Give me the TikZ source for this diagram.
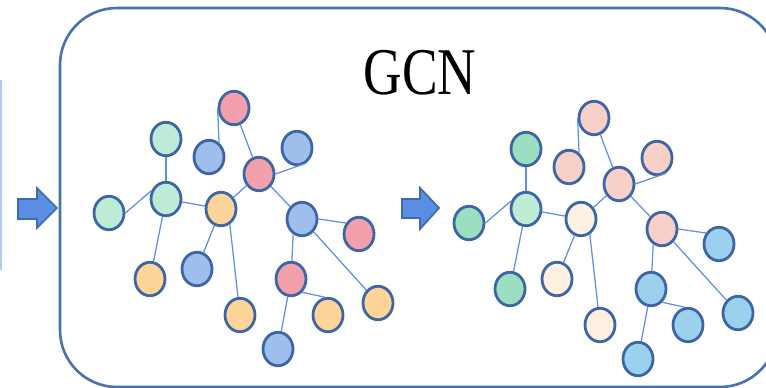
\documentclass[tikz,border=0pt]{standalone}
\usepackage{fontspec}
\setmainfont{Liberation Serif}
\usetikzlibrary{shapes.geometric}

\definecolor{rim}{HTML}{4A72AE}
\definecolor{dotrim}{HTML}{3F66A4}
\definecolor{linkblue}{HTML}{5B8FE0}
\definecolor{arrowblue}{HTML}{5B8DE2}
\definecolor{arrowrim}{HTML}{3E6AAF}
\definecolor{pinkL}{HTML}{F2A0AB}
\definecolor{greenL}{HTML}{BDEBD6}
\definecolor{blueL}{HTML}{9EBEEC}
\definecolor{orangeL}{HTML}{FDD598}
\definecolor{pinkR}{HTML}{F8D0C7}
\definecolor{greenD}{HTML}{9BDFC0}
\definecolor{creamR}{HTML}{FEF0E0}
\definecolor{skyR}{HTML}{9CD1EE}

\begin{document}
\begin{tikzpicture}[
        x=0.02cm, y=-0.02cm,
        dot/.style={ellipse, draw=dotrim, line width=1.6pt, minimum width=0.6cm, minimum height=0.67cm, inner sep=0pt},
        link/.style={draw=linkblue, line width=0.7pt},
        frame/.style={draw=rim, line width=1.5pt, rounded corners=1.14cm},
        fatarrow/.style={draw=arrowrim, fill=arrowblue, line width=1pt, line join=miter},
    ]
    \useasboundingbox (0,0) rectangle (766,388);
    \clip (0,0) rectangle (766,388);

    % cut-off part on the left and the GCN frame
    \draw[draw=blueL!80!white, line width=0.8pt] (1,80) -- (1,270);
    \draw[frame] (60,8) rectangle (777,387);
    \node[font=\fontsize{38}{40}\selectfont, anchor=base] (title) at (420,95) {\scalebox{0.8}[1]{GCN}};

    % block arrows
    \draw[fatarrow] (18,199) -- (37,199) -- (37,188) -- (57,208) -- (37,228) -- (37,219) -- (18,219) -- cycle;
    \draw[fatarrow] (402,199) -- (420,199) -- (420,188) -- (439,208) -- (420,229) -- (420,218) -- (402,218) -- cycle;

    % graph before GCN
    \foreach \n/\x/\y/\c in {1/234/108/pinkL, 2/166/139/greenL, 3/209/157/blueL, 4/297/148/blueL,
            5/259/174/pinkL, 6/166/199/greenL, 7/109/213/greenL, 8/221/209/orangeL,
            9/302/219/blueL, 10/359/234/pinkL, 11/150/279/orangeL, 12/197/269/blueL,
            13/291/279/pinkL, 14/240/315/orangeL, 15/328/315/orangeL, 16/378/303/orangeL, 17/278/349/blueL}
        \node[dot, fill=\c] (a\n) at (\x,\y) {};

    % graph after GCN
    \begin{scope}[shift={(360,10)}]
    \foreach \n/\x/\y/\c in {1/234/108/pinkR, 2/166/139/greenD, 3/209/157/pinkR, 4/297/148/pinkR,
            5/259/174/pinkR, 6/166/199/greenL, 7/109/213/greenD, 8/221/209/creamR,
            9/302/219/pinkR, 10/359/234/skyR, 11/150/279/greenD, 12/197/269/creamR,
            13/291/279/skyR, 14/240/315/creamR, 15/328/315/skyR, 16/378/303/skyR, 17/278/349/skyR}
        \node[dot, fill=\c] (b\n) at (\x,\y) {};
    \end{scope}

    % edges, same for both graphs
    \foreach \g in {a,b}
        \foreach \s/\t in {1.west/3.55, 1/5, 5.east/4.-60, 5/8, 5/9, 2/6, 7.east/6.150, 6/8, 6/11,
                8/12, 8.-60/14, 9.east/10.140, 9.240/13, 9/16, 13.-50/15.100, 13/17}
            \draw[link] (\g\s) -- (\g\t);
\end{tikzpicture}
\end{document}
